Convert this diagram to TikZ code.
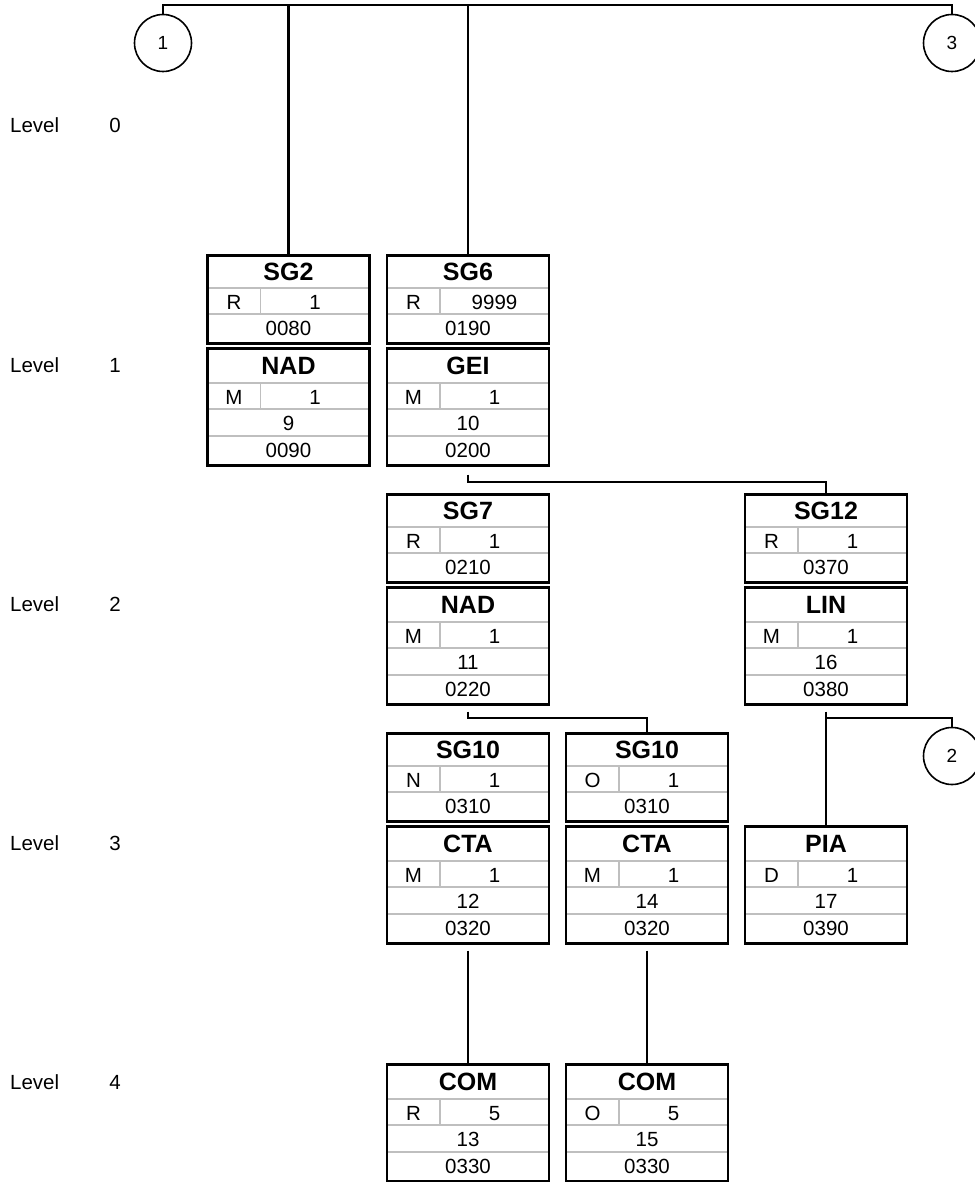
\documentclass[tikz,border=0pt]{standalone}
\usepackage{fontspec}
\setmainfont{Liberation Sans}
\tikzset{
  frame/.style={draw=black, line width=2.6pt, inner sep=0pt, minimum width=162pt, anchor=north},
  sepline/.style={draw=black!25, line width=1.6pt},
  conn/.style={draw=black, line width=2.3pt},
  hd/.style={anchor=base, inner sep=0pt, font=\fontsize{25}{30}\selectfont\bfseries},
  tx/.style={anchor=base, inner sep=0pt, font=\fontsize{20.5}{24}\selectfont},
  refc/.style={circle, draw=black, line width=1.6pt, minimum size=57pt, inner sep=0pt, font=\fontsize{19}{22}\selectfont},
}
% segment group box: name, cx, top, title, status, rep, pos
\newcommand\SGbox[7]{%
  \draw[sepline] (#2-81,#3+34) -- (#2+81,#3+34) (#2-81,#3+60) -- (#2+81,#3+60) (#2-28,#3+34) -- (#2-28,#3+60);
  \node[frame, minimum height=88pt] (#1) at (#2,#3) {};
  \node[hd] (#1-t) at (#2,#3+26) {#4};
  \node[tx] (#1-s) at (#2-54.5,#3+55) {#5};
  \node[tx] (#1-r) at (#2+26.5,#3+55) {#6};
  \node[tx] (#1-p) at (#2,#3+81) {#7};
}
% segment box: name, cx, top, title, status, rep, num, pos
\newcommand\SEGbox[8]{%
  \draw[sepline] (#2-81,#3+36) -- (#2+81,#3+36) (#2-81,#3+62) -- (#2+81,#3+62) (#2-81,#3+89) -- (#2+81,#3+89) (#2-28,#3+36) -- (#2-28,#3+62);
  \node[frame, minimum height=117pt] (#1) at (#2,#3) {};
  \node[hd] (#1-t) at (#2,#3+27) {#4};
  \node[tx] (#1-s) at (#2-54.5,#3+57) {#5};
  \node[tx] (#1-r) at (#2+26.5,#3+57) {#6};
  \node[tx] (#1-n) at (#2,#3+83) {#7};
  \node[tx] (#1-p) at (#2,#3+110) {#8};
}
\begin{document}
\begin{tikzpicture}[x=1pt,y=-1pt]
\useasboundingbox (0,0) rectangle (974,1182);

% level labels
\foreach \k/\yy in {0/126,1/365,2/604,3/843,4/1082}{
  \node[tx, anchor=base west] (lv\k) at (10,\yy+7) {Level};
  \node[tx] (ln\k) at (115,\yy+7) {\k};
}

% reference circles
\node[refc] (c1) at (163,43) {1};
\node[refc] (c3) at (952,43) {3};
\node[refc] (c2) at (952,756) {2};

% level 1
\SGbox{sg2}{288.5}{254}{SG2}{R}{1}{0080}
\SEGbox{nad1}{288.5}{347}{NAD}{M}{1}{9}{0090}
\SGbox{sg6}{468}{254}{SG6}{R}{9999}{0190}
\SEGbox{gei}{468}{347}{GEI}{M}{1}{10}{0200}

% level 2
\SGbox{sg7}{468}{493}{SG7}{R}{1}{0210}
\SEGbox{nad2}{468}{586}{NAD}{M}{1}{11}{0220}
\SGbox{sg12}{826}{493}{SG12}{R}{1}{0370}
\SEGbox{lin}{826}{586}{LIN}{M}{1}{16}{0380}

% level 3
\SGbox{sg10a}{468}{732}{SG10}{N}{1}{0310}
\SEGbox{cta1}{468}{825}{CTA}{M}{1}{12}{0320}
\SGbox{sg10b}{647}{732}{SG10}{O}{1}{0310}
\SEGbox{cta2}{647}{825}{CTA}{M}{1}{14}{0320}
\SEGbox{pia}{826}{825}{PIA}{D}{1}{17}{0390}

% level 4
\SEGbox{com1}{468}{1063}{COM}{R}{5}{13}{0330}
\SEGbox{com2}{647}{1063}{COM}{O}{5}{15}{0330}

% connectors
\draw[conn] (c1.north) -- (c1.north |- 0,5) -- (c3.north |- 0,5) -- (c3.north);
\draw[conn] (sg2.north) -- (sg2.north |- 0,5);
\draw[conn] (sg6.north) -- (sg6.north |- 0,5);

\draw[conn] ([yshift=-8pt]gei.south) -- (gei.south |- 0,482) -- (sg12.north |- 0,482) -- (sg12.north);

\draw[conn] ([yshift=-6pt]nad2.south) -- (nad2.south |- 0,718) -- (sg10b.north |- 0,718) -- (sg10b.north);
\draw[conn] ([yshift=-6pt]lin.south) -- (pia.north);
\draw[conn] (lin.south |- 0,718) -- (c2.north |- 0,718) -- (c2.north);

\draw[conn] ([yshift=-6pt]cta1.south) -- (com1.north);
\draw[conn] ([yshift=-6pt]cta2.south) -- (com2.north);
\end{tikzpicture}
\end{document}
